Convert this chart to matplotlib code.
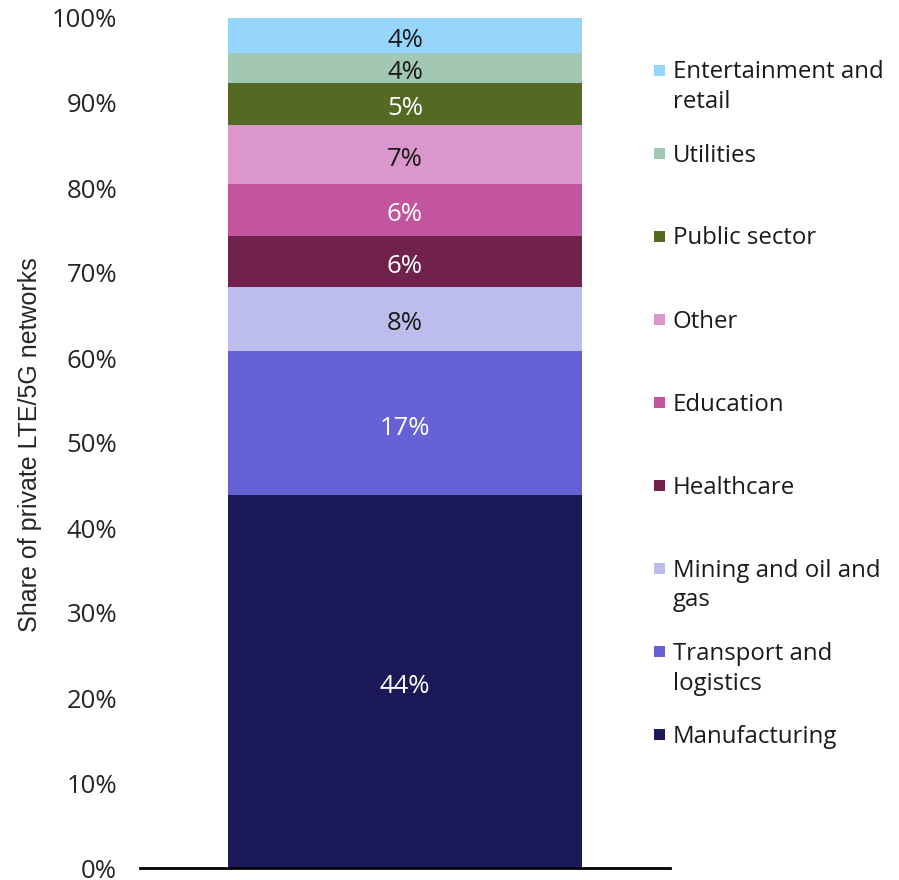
import matplotlib
matplotlib.use("Agg")
import matplotlib.pyplot as plt
from matplotlib.patches import Rectangle

categories = ["Manufacturing", "Transport and\nlogistics", "Mining and oil and\ngas", "Healthcare",
              "Education", "Other", "Public sector", "Utilities", "Entertainment and\nretail"]
values = [43.9, 16.9, 7.6, 6.0, 6.1, 6.9, 5.0, 3.5, 4.1]
labels = ["44%", "17%", "8%", "6%", "6%", "7%", "5%", "4%", "4%"]
colors = ["#1B1958", "#6661D5", "#BDBDED", "#70224C", "#C2559E", "#DB97CB", "#546A22", "#A2C8B4", "#96D5FC"]
label_colors = ["white", "white", "#1a1a1a", "white", "white", "#1a1a1a", "white", "#1a1a1a", "#1a1a1a"]
yticks = [0, 10, 20, 30, 40, 50, 60, 70, 80, 90, 100]

plt.rcParams['font.family'] = ['Open Sans', 'DejaVu Sans']
W, H = 899, 880
fig = plt.figure(figsize=(W/100, H/100), dpi=100)
ax = fig.add_axes([140/W, 1-868/H, 530/W, 850/H])

bottom = 0
for v, c, lab, lc in zip(values, colors, labels, label_colors):
    ax.bar(0, v, bottom=bottom, width=1.0, color=c, linewidth=0)
    ax.annotate(lab, xy=(0, bottom + v/2), xytext=(0, -8.3), textcoords='offset points',
                ha='center', va='baseline', color=lc, fontsize=18.5)
    bottom += v

ax.set_xlim(-0.75, 0.75)
ax.set_ylim(0, 100)
ax.set_xticks([])
ax.set_yticks(yticks)
ax.set_yticklabels([f"{t}%" for t in yticks], fontsize=18.5, color="#262626")
ax.tick_params(axis='y', length=0, pad=16.5)
for s in ['top', 'right', 'left']:
    ax.spines[s].set_visible(False)
ax.spines['bottom'].set_linewidth(2)
ax.spines['bottom'].set_color('black')
ax.set_ylabel("")
fig.text(30/W, 1-445/H, "Share of private LTE/5G networks", rotation=90, ha='center', va='center',
         fontsize=18, family=['Liberation Sans', 'DejaVu Sans'], color="#262626")

# legend (top to bottom: reverse order)
y0 = 70
step = 83
line_h = 30
for i, (cat, c) in enumerate(zip(categories[::-1], colors[::-1])):
    y = y0 + i*step
    fig.patches.append(Rectangle((654/W, 1-(y+6)/H), 11/W, 11/H, transform=fig.transFigure,
                                 facecolor=c, edgecolor='none'))
    for k, line in enumerate(cat.split("\n")):
        fig.text(673/W, 1-(y + 8.5 + k*line_h)/H, line, ha='left', va='baseline',
                 fontsize=17.3, color="#1a1a1a")

fig.savefig("out.png", dpi=100)
